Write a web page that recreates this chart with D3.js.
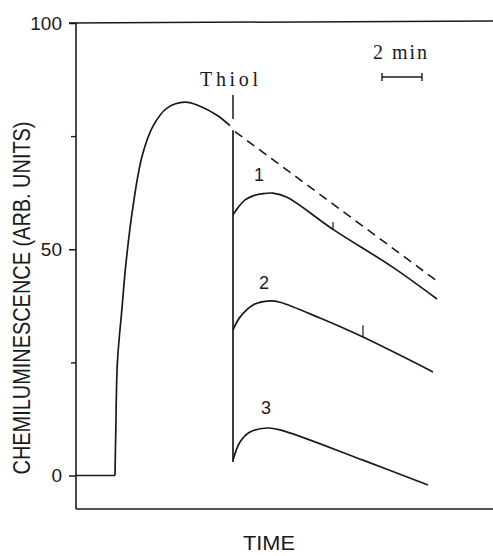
<!DOCTYPE html>
<html>
<head>
<meta charset="utf-8">
<script src="https://cdn.jsdelivr.net/npm/d3@7"></script>
<style>
  body { margin: 0; background: #fff; }
  svg { display: block; }
  text { fill: #1a1a1a; }
</style>
</head>
<body>
<div id="chart"></div>
<script>
// time in minutes, signal in arbitrary units
const baseTime  = [0, 1.95];
const baseValue = [0, 0];

const riseTime  = [1.95, 1.99, 2.07, 2.3, 2.5, 2.85, 3.3, 3.85, 4.55, 5.45, 6.2, 7.05, 7.7];
const riseValue = [0, 10, 25, 37, 47, 59.5, 70.5, 77.2, 81.2, 82.5, 81.6, 79.6, 77.3];

const thiolTime = 7.85;
const thiolDrop = [76.3, 3.0];

const controlTime  = [7.95, 18.2];
const controlValue = [76.0, 42.5];

const c1Time  = [7.85, 8.1, 8.45, 8.85, 9.35, 9.85, 10.55, 12.85, 15.85, 18.05];
const c1Value = [57.6, 59.2, 60.9, 61.8, 62.3, 62.4, 61.5, 54.4, 46.0, 39.0];

const c2Time  = [7.85, 8.2, 8.85, 9.7, 10.2, 12.2, 14.35, 17.85];
const c2Value = [32.2, 35.0, 37.7, 38.6, 38.3, 34.8, 30.6, 22.9];

const c3Time  = [7.85, 8.2, 8.7, 9.55, 10.2, 14.35, 17.6];
const c3Value = [3.4, 7.4, 9.6, 10.5, 10.1, 3.4, -2.1];

const curveLabels = ["1", "2", "3"];
const labelTime   = [9.15, 9.4, 9.5];
const labelValue  = [66.4, 42.5, 14.9];

// small pen marks on traces 1 and 2
const markTime  = [12.85, 14.35];
const markValue = [54.4, 30.6];
const markLen   = [1.6, 2.6];

const majorTicks = [0, 50, 100];
const minorTicks = [25, 75];

const width = 493, height = 556;
const ink = "#1a1a1a";

const x = d3.scaleLinear().domain([0, 20.85]).range([76, 493]);
const y = d3.scaleLinear().domain([-7.4, 100]).range([509, 23]);

const svg = d3.select("#chart").append("svg")
    .attr("width", width)
    .attr("height", height);

// frame: left axis, top and bottom rules (no right side)
svg.append("line")
    .attr("x1", x(0)).attr("x2", x(0))
    .attr("y1", y(100)).attr("y2", y(-7.4))
    .attr("stroke", ink).attr("stroke-width", 1.6);
svg.append("line")
    .attr("x1", x(0) - 7).attr("x2", width)
    .attr("y1", y(100)).attr("y2", y(100) - 2)
    .attr("stroke", ink).attr("stroke-width", 1.5);
svg.append("line")
    .attr("x1", x(0)).attr("x2", width)
    .attr("y1", y(-7.4)).attr("y2", y(-7.4))
    .attr("stroke", ink).attr("stroke-width", 1.5);

const yAxis = svg.append("g")
    .attr("transform", `translate(${x(0)},0)`)
    .call(d3.axisLeft(y).tickValues(majorTicks).tickSize(7).tickPadding(7));
yAxis.select(".domain").remove();
yAxis.selectAll("line").attr("stroke", ink).attr("stroke-width", 1.5);
yAxis.selectAll("text")
    .attr("fill", ink)
    .style("font-family", "'Liberation Sans', Arial, sans-serif")
    .style("font-size", "19px");

const yMinor = svg.append("g")
    .attr("transform", `translate(${x(0)},0)`)
    .call(d3.axisLeft(y).tickValues(minorTicks).tickSize(5).tickFormat(""));
yMinor.select(".domain").remove();
yMinor.selectAll("line").attr("stroke", ink).attr("stroke-width", 1.4);

// axis titles
svg.append("text")
    .attr("transform", "translate(30,298) rotate(-90)")
    .attr("text-anchor", "middle")
    .attr("textLength", 353)
    .attr("lengthAdjust", "spacingAndGlyphs")
    .style("font-family", "'Liberation Sans', Arial, sans-serif")
    .style("font-size", "24px")
    .text("CHEMILUMINESCENCE (ARB. UNITS)");

svg.append("text")
    .attr("x", 243).attr("y", 550)
    .attr("textLength", 52)
    .attr("lengthAdjust", "spacingAndGlyphs")
    .style("font-family", "'Liberation Sans', Arial, sans-serif")
    .style("font-size", "21px")
    .text("TIME");

const line = d3.line()
    .x(d => x(d[0]))
    .y(d => y(d[1]))
    .curve(d3.curveCatmullRom.alpha(0.5));

const zip = (a, b) => a.map((t, i) => [t, b[i]]);

const traces = [
    zip(baseTime, baseValue),
    zip(riseTime, riseValue),
    zip(c1Time, c1Value),
    zip(c2Time, c2Value),
    zip(c3Time, c3Value)
];

svg.selectAll(".trace")
    .data(traces)
    .enter().append("path")
    .attr("class", "trace")
    .attr("d", line)
    .attr("fill", "none")
    .attr("stroke", ink)
    .attr("stroke-width", 1.7)
    .attr("stroke-linejoin", "round");

// control (no thiol) continuation
svg.append("path")
    .attr("d", d3.line().x(d => x(d[0])).y(d => y(d[1]))(zip(controlTime, controlValue)))
    .attr("fill", "none")
    .attr("stroke", ink)
    .attr("stroke-width", 1.6)
    .attr("stroke-dasharray", "9,6");

// thiol injection drop
svg.append("line")
    .attr("x1", x(thiolTime)).attr("x2", x(thiolTime))
    .attr("y1", y(thiolDrop[0])).attr("y2", y(thiolDrop[1]))
    .attr("stroke", ink).attr("stroke-width", 1.7);

// injection marker and label
svg.append("line")
    .attr("x1", x(thiolTime)).attr("x2", x(thiolTime))
    .attr("y1", 95).attr("y2", 119)
    .attr("stroke", ink).attr("stroke-width", 1.5);
svg.append("text")
    .attr("x", 200).attr("y", 86)
    .attr("textLength", 58)
    .attr("lengthAdjust", "spacing")
    .style("font-family", "'Liberation Serif', 'Times New Roman', serif")
    .style("font-size", "20px")
    .text("Thiol");

svg.selectAll(".mark")
    .data(markTime)
    .enter().append("line")
    .attr("class", "mark")
    .attr("x1", d => x(d)).attr("x2", d => x(d))
    .attr("y1", (d, i) => y(markValue[i]))
    .attr("y2", (d, i) => y(markValue[i] + markLen[i]))
    .attr("stroke", ink).attr("stroke-width", 1.2);

svg.selectAll(".clabel")
    .data(curveLabels)
    .enter().append("text")
    .attr("class", "clabel")
    .attr("x", (d, i) => x(labelTime[i]))
    .attr("y", (d, i) => y(labelValue[i]))
    .attr("dy", "0.35em")
    .attr("text-anchor", "middle")
    .style("font-family", "'Liberation Sans', Arial, sans-serif")
    .style("font-size", "18px")
    .text(d => d);

// 2 min scale bar
const barStart = 15.3;
const barY = 77;
svg.append("line")
    .attr("x1", x(barStart)).attr("x2", x(barStart + 2))
    .attr("y1", barY).attr("y2", barY)
    .attr("stroke", ink).attr("stroke-width", 1.5);
svg.selectAll(".barEnd")
    .data([barStart, barStart + 2])
    .enter().append("line")
    .attr("class", "barEnd")
    .attr("x1", d => x(d)).attr("x2", d => x(d))
    .attr("y1", barY - 4).attr("y2", barY + 4)
    .attr("stroke", ink).attr("stroke-width", 1.4);
svg.append("text")
    .attr("x", 373).attr("y", 59)
    .attr("textLength", 54)
    .attr("lengthAdjust", "spacing")
    .style("font-family", "'Liberation Serif', 'Times New Roman', serif")
    .style("font-size", "20px")
    .text("2 min");
</script>
</body>
</html>
